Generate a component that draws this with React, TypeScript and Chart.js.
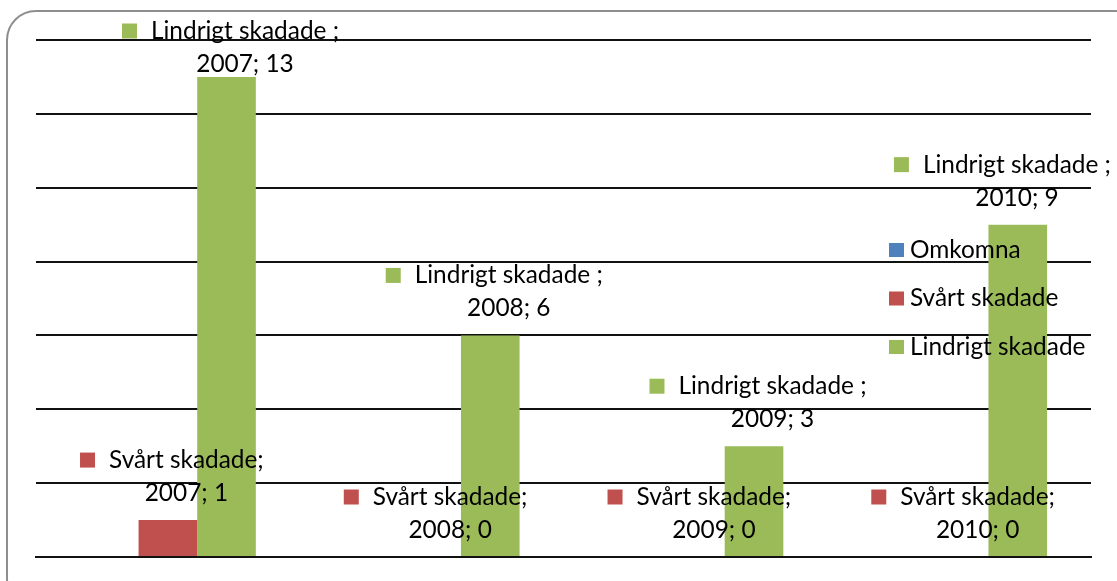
import React, { useEffect, useRef } from 'react';
import { Chart, registerables } from 'chart.js';

Chart.register(...registerables);

const years = ['2007', '2008', '2009', '2010'];
const seriesNames = ['Omkomna', 'Svårt skadade', 'Lindrigt skadade'];
const omkomna = [0, 0, 0, 0];
const svartSkadade = [1, 0, 0, 0];
const lindrigtSkadade = [13, 6, 3, 9];
const seriesColors = ['#4F81BD', '#C0504D', '#9BBB59'];
// data-label separator per series (null = no data labels for that series)
const labelSeparators: (string | null)[] = [null, ';', ' ;'];
const yMax = 14;
const yStep = 2;

const FONT_FAMILY = 'Lato, "Open Sans", sans-serif';
const FONT_SIZE = 24.4;

const excelLabels = {
  id: 'excelLabels',
  afterDatasetsDraw(chart: any) {
    const ctx = chart.ctx as CanvasRenderingContext2D;
    ctx.save();
    ctx.font = `${FONT_SIZE}px ${FONT_FAMILY}`;
    ctx.textBaseline = 'middle';
    ctx.textAlign = 'center';
    const key = 15;
    const gap = 14;
    chart.data.datasets.forEach((ds: any, di: number) => {
      const sep = labelSeparators[di];
      if (sep == null) return;
      const meta = chart.getDatasetMeta(di);
      meta.data.forEach((bar: any, i: number) => {
        const line1 = ds.label + sep;
        const line2 = `${chart.data.labels[i]}; ${ds.data[i]}`;
        const textW = Math.max(ctx.measureText(line1).width, ctx.measureText(line2).width);
        const blockW = key + gap + textW;
        let left = bar.x + 4 - blockW / 2;
        const maxRight = chart.width - 6;
        if (left + blockW > maxRight) left = maxRight - blockW;
        let y2 = bar.y - 27;
        let y1 = y2 - 33;
        if (y1 < 31) {
          const d = 31 - y1;
          y1 += d;
          y2 += d;
        }
        ctx.fillStyle = ds.backgroundColor;
        ctx.fillRect(left, y1 - 7.5, key, key);
        const tc = left + key + gap + textW / 2;
        ctx.fillStyle = '#000';
        ctx.fillText(line1, tc, y1);
        ctx.fillText(line2, tc, y2);
      });
    });

    // legend (vertical, right side, overlapping the plot)
    ctx.textAlign = 'left';
    const lx = 889;
    const ly0 = 250;
    const lstep = 48.5;
    chart.data.datasets.forEach((ds: any, di: number) => {
      const y = ly0 + di * lstep;
      ctx.fillStyle = ds.backgroundColor;
      ctx.fillRect(lx, y - 7, 15, 14);
      ctx.fillStyle = '#000';
      ctx.fillText(ds.label, lx + 21, y);
    });
    ctx.restore();
  },
};

export default function App() {
  const canvasRef = useRef<HTMLCanvasElement | null>(null);

  useEffect(() => {
    if (!canvasRef.current) return;
    const seriesValues = [omkomna, svartSkadade, lindrigtSkadade];
    const chart = new Chart(canvasRef.current, {
      type: 'bar',
      data: {
        labels: years,
        datasets: seriesNames.map((name, i) => ({
          label: name,
          data: seriesValues[i],
          backgroundColor: seriesColors[i],
          borderWidth: 0,
          categoryPercentage: 0.667,
          barPercentage: 1,
        })),
      },
      options: {
        animation: false,
        responsive: true,
        maintainAspectRatio: false,
        layout: { padding: { left: 36, right: 26, top: 40, bottom: 24 } },
        plugins: {
          legend: { display: false },
          tooltip: { enabled: false },
          title: { display: false },
        },
        scales: {
          x: {
            ticks: { display: false },
            grid: { display: false, drawTicks: false, tickLength: 0 },
            border: { display: true, color: '#111', width: 2 },
          },
          y: {
            min: 0,
            max: yMax,
            ticks: { display: false, stepSize: yStep },
            grid: { color: '#111', lineWidth: 2, drawTicks: false, tickLength: 0 },
            border: { display: false },
          },
        },
      },
      plugins: [excelLabels],
    });
    return () => chart.destroy();
  }, []);

  return (
    <div>
      <div
        style={{
          position: 'fixed',
          left: 6,
          top: 10,
          width: 1140,
          height: 600,
          border: '2px solid #8e8e8e',
          borderRadius: 30,
          boxSizing: 'border-box',
        }}
      />
      <div style={{ position: 'fixed', left: 0, top: 0, width: 1117, height: 581 }}>
        <canvas ref={canvasRef} />
      </div>
    </div>
  );
}
